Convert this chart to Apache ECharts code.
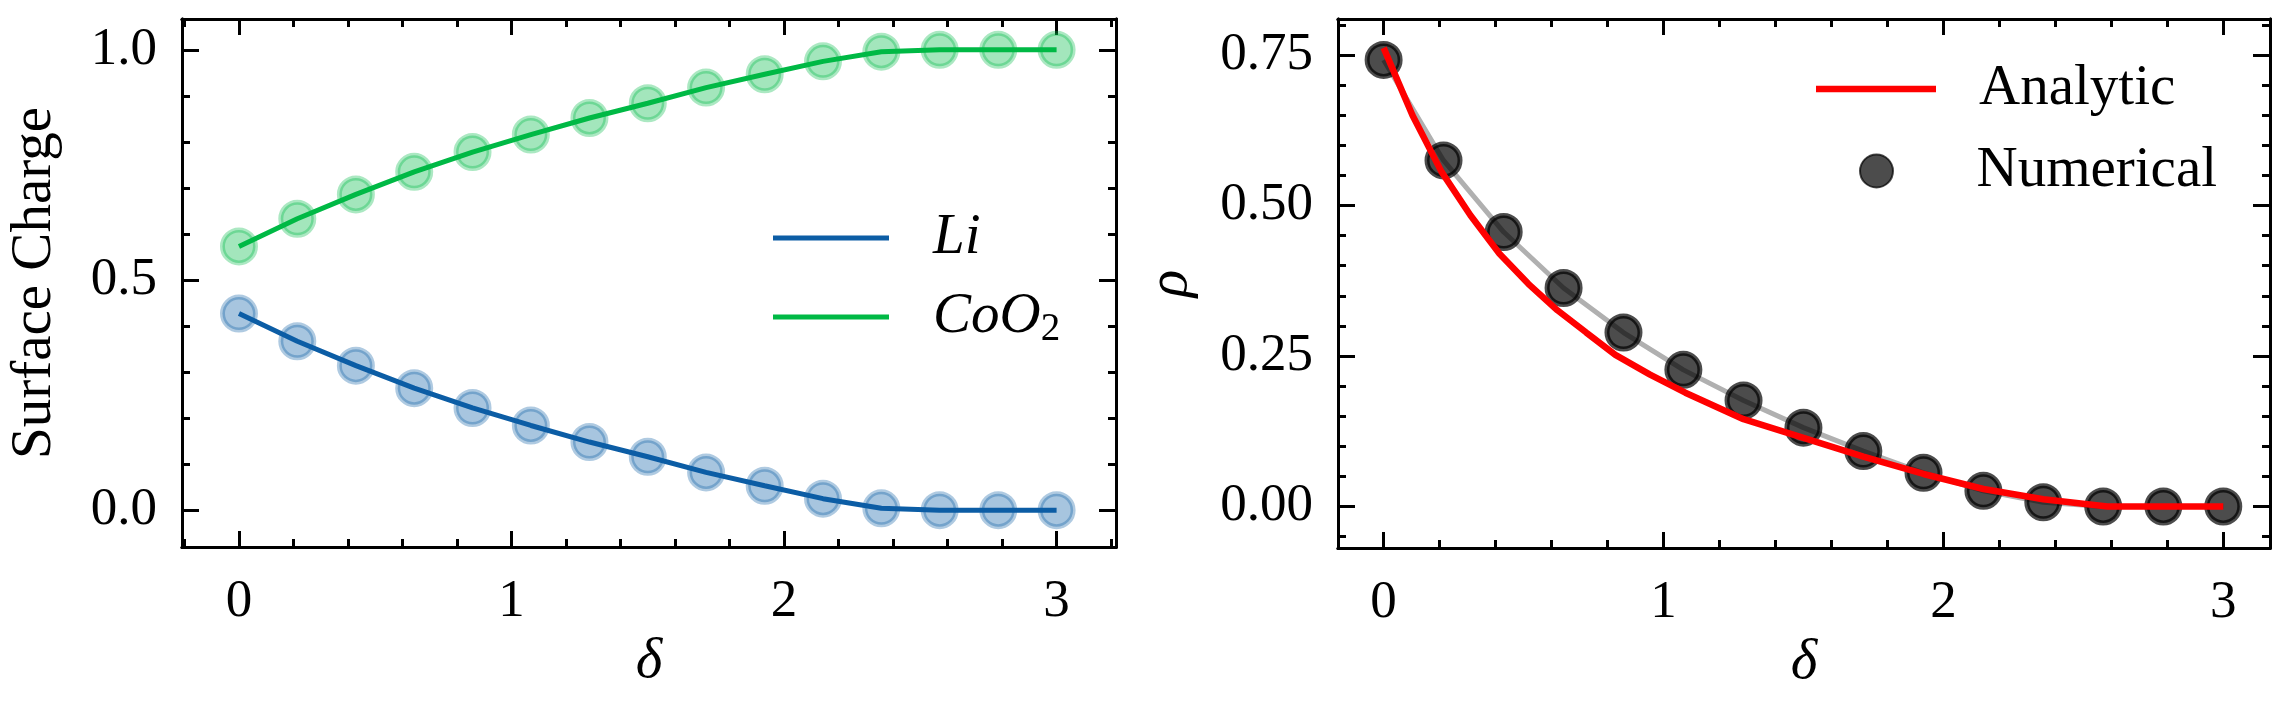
<!DOCTYPE html>
<html>
<head>
<meta charset="utf-8">
<script src="https://cdn.jsdelivr.net/npm/echarts@6/dist/echarts.min.js"></script>
<style>
html,body{margin:0;padding:0;background:#fff;}
#chart{width:2292px;height:707px;}
</style>
</head>
<body>
<div id="chart"></div>
<script>
/* delta grid shared by both panels */
var deltaPts   = [0, 0.214, 0.429, 0.643, 0.857, 1.071, 1.286, 1.5, 1.714, 1.929, 2.143, 2.357, 2.571, 2.786, 3];
var liCharge   = [0.427, 0.367, 0.314, 0.265, 0.222, 0.184, 0.148, 0.116, 0.082, 0.053, 0.025, 0.004, 0, 0, 0];
var cooCharge  = [0.573, 0.633, 0.686, 0.735, 0.778, 0.816, 0.852, 0.884, 0.918, 0.947, 0.975, 0.996, 1, 1, 1];
var rhoNum     = [0.742, 0.575, 0.456, 0.363, 0.289, 0.227, 0.176, 0.131, 0.092, 0.056, 0.026, 0.007, 0, 0, 0];
var anaDelta   = [0, 0.103, 0.207, 0.310, 0.414, 0.517, 0.621, 0.724, 0.828, 0.952, 1.078, 1.286, 1.5, 1.714, 1.929, 2.143, 2.357, 2.586, 3];
var rhoAna     = [0.762, 0.650, 0.556, 0.484, 0.420, 0.370, 0.326, 0.289, 0.252, 0.219, 0.189, 0.145, 0.114, 0.083, 0.054, 0.029, 0.012, 0, 0];

/* tick values */
var xMajor      = [0, 1, 2, 3];
var xMinorL     = [-0.2, 0.2, 0.4, 0.6, 0.8, 1.2, 1.4, 1.6, 1.8, 2.2, 2.4, 2.6, 2.8, 3.2];
var xMinorR     = [0.2, 0.4, 0.6, 0.8, 1.2, 1.4, 1.6, 1.8, 2.2, 2.4, 2.6, 2.8];
var yMajorL     = [0, 0.5, 1.0];
var yMinorL     = [0.1, 0.2, 0.3, 0.4, 0.6, 0.7, 0.8, 0.9];
var yMajorR     = [0, 0.25, 0.5, 0.75];
var yMinorR     = [-0.05, 0.05, 0.1, 0.15, 0.2, 0.3, 0.35, 0.4, 0.45, 0.55, 0.6, 0.65, 0.7, 0.8];

var FONT = "Liberation Serif, DejaVu Serif, serif";
var TICK_FS = 53, TEXT_FS = 57;
var C = { li:"#0C5DA5", coo:"#00B945", red:"#FF0000", grey:"#b0b0b0" };

function pairs(xs, ys){ return xs.map(function(x,i){ return [x, ys[i]]; }); }

/* one axis of a frame side: major or minor ticks, optional labels */
function xAx(grid, min, max, pos, ticks, len, labels, name){
  var a = {
    type:"value", gridIndex:grid, min:min, max:max, position:pos,
    axisLine:{show:true, onZero:false, lineStyle:{color:"#000", width:3}},
    axisTick:{show:true, inside:true, length:len, customValues:ticks, lineStyle:{color:"#000", width:3}},
    axisLabel:{show:false},
    splitLine:{show:false}
  };
  if(labels){
    a.axisLabel = { show:true, customValues:ticks, margin:29, color:"#000",
      fontFamily:FONT, fontSize:TICK_FS, formatter:function(v){ return String(Math.round(v)); } };
  }
  if(name){
    a.name = name; a.nameLocation = "middle"; a.nameGap = 86;
    a.nameTextStyle = { fontFamily:FONT, fontSize:TEXT_FS, fontStyle:"italic", color:"#000" };
  }
  return a;
}
function yAx(grid, min, max, pos, ticks, len, labels, digits, name, gap, italic){
  var a = {
    type:"value", gridIndex:grid, min:min, max:max, position:pos,
    axisLine:{show:true, onZero:false, lineStyle:{color:"#000", width:3}},
    axisTick:{show:true, inside:true, length:len, customValues:ticks, lineStyle:{color:"#000", width:3}},
    axisLabel:{show:false},
    splitLine:{show:false}
  };
  if(labels){
    a.axisLabel = { show:true, customValues:ticks, margin:25, color:"#000",
      fontFamily:FONT, fontSize:TICK_FS, formatter:function(v){ return (+v).toFixed(digits); } };
  }
  if(name){
    a.name = name; a.nameLocation = "middle"; a.nameGap = gap; a.nameRotate = 90;
    a.nameTextStyle = { fontFamily:FONT, fontSize:TEXT_FS, fontStyle:italic ? "italic" : "normal", color:"#000" };
  }
  return a;
}

var LX = [-0.209, 3.218], LY = [-0.080, 1.067];
var RX = [-0.163, 3.167], RY = [-0.069, 0.810];

var option = {
  animation:false,
  backgroundColor:"#fff",
  grid:[
    { left:182, top:19, width:934, height:528, show:false },
    { left:1338, top:19, width:932, height:529, show:false }
  ],
  xAxis:[
    xAx(0, LX[0], LX[1], "bottom", xMajor, 16, true, "\u03b4"),
    xAx(0, LX[0], LX[1], "bottom", xMinorL, 8, false),
    xAx(0, LX[0], LX[1], "top", xMajor, 16, false),
    xAx(0, LX[0], LX[1], "top", xMinorL, 8, false),
    xAx(1, RX[0], RX[1], "bottom", xMajor, 16, true, "\u03b4"),
    xAx(1, RX[0], RX[1], "bottom", xMinorR, 8, false),
    xAx(1, RX[0], RX[1], "top", xMajor, 16, false),
    xAx(1, RX[0], RX[1], "top", xMinorR, 8, false)
  ],
  yAxis:[
    yAx(0, LY[0], LY[1], "left", yMajorL, 17, true, 1, "Surface Charge", 118, false),
    yAx(0, LY[0], LY[1], "left", yMinorL, 8, false),
    yAx(0, LY[0], LY[1], "right", yMajorL, 17, false),
    yAx(0, LY[0], LY[1], "right", yMinorL, 8, false),
    yAx(1, RY[0], RY[1], "left", yMajorR, 17, true, 2, "\u03c1", 138, true),
    yAx(1, RY[0], RY[1], "left", yMinorR, 8, false),
    yAx(1, RY[0], RY[1], "right", yMajorR, 17, false),
    yAx(1, RY[0], RY[1], "right", yMinorR, 8, false)
  ],
  legend:[
    { data:["Li","CoO2"], orient:"vertical", left:773, top:206, padding:0,
      itemWidth:116, itemHeight:5, itemGap:15, icon:"rect", selectedMode:false,
      formatter:function(n){ return n === "CoO2" ? "{it|CoO}{sub|2}" : "{it|" + n + "}"; },
      textStyle:{ padding:[0,0,0,39], lineHeight:64,
        rich:{
          it:{ fontFamily:FONT, fontSize:TEXT_FS, fontStyle:"italic", color:"#000", lineHeight:64 },
          sub:{ fontFamily:FONT, fontSize:39, color:"#000", lineHeight:22, verticalAlign:"bottom" }
        } } },
    { data:["Analytic"], left:1816, top:57, padding:0,
      itemWidth:120, itemHeight:6.5, icon:"rect", selectedMode:false,
      textStyle:{ fontFamily:FONT, fontSize:TEXT_FS, color:"#000", lineHeight:64, padding:[0,0,0,38] } },
    { data:["Numerical"], left:1859, top:139, padding:0,
      itemWidth:120, itemHeight:33, icon:"circle", selectedMode:false,
      textStyle:{ fontFamily:FONT, fontSize:TEXT_FS, color:"#000", lineHeight:64, padding:[0,0,0,35] } }
  ],
  series:[
    { name:"Li pts", type:"scatter", xAxisIndex:0, yAxisIndex:0, data:pairs(deltaPts, liCharge),
      symbolSize:33, z:2,
      itemStyle:{ color:"rgba(12,93,165,0.36)", borderColor:"rgba(12,93,165,0.33)", borderWidth:5, opacity:1 } },
    { name:"CoO2 pts", type:"scatter", xAxisIndex:0, yAxisIndex:0, data:pairs(deltaPts, cooCharge),
      symbolSize:33, z:2,
      itemStyle:{ color:"rgba(0,185,69,0.36)", borderColor:"rgba(0,185,69,0.33)", borderWidth:5, opacity:1 } },
    { name:"Li", type:"line", xAxisIndex:0, yAxisIndex:0, data:pairs(deltaPts, liCharge),
      symbol:"none", z:3, itemStyle:{color:C.li}, lineStyle:{color:C.li, width:5} },
    { name:"CoO2", type:"line", xAxisIndex:0, yAxisIndex:0, data:pairs(deltaPts, cooCharge),
      symbol:"none", z:3, itemStyle:{color:C.coo}, lineStyle:{color:C.coo, width:5} },

    { name:"fit", type:"line", xAxisIndex:4, yAxisIndex:4, data:pairs(deltaPts, rhoNum),
      symbol:"none", z:2, lineStyle:{color:C.grey, width:5} },
    { name:"Numerical", type:"scatter", xAxisIndex:4, yAxisIndex:4, data:pairs(deltaPts, rhoNum),
      symbolSize:33, z:3,
      itemStyle:{ color:"rgba(0,0,0,0.7)", borderColor:"rgba(0,0,0,0.7)", borderWidth:5, opacity:1 } },
    { name:"Analytic", type:"line", xAxisIndex:4, yAxisIndex:4, data:pairs(anaDelta, rhoAna),
      symbol:"none", z:4, itemStyle:{color:C.red}, lineStyle:{color:C.red, width:6.5} }
  ]
};

var chart = echarts.init(document.getElementById("chart"), null, {renderer:"canvas"});
chart.setOption(option);
</script>
</body>
</html>
